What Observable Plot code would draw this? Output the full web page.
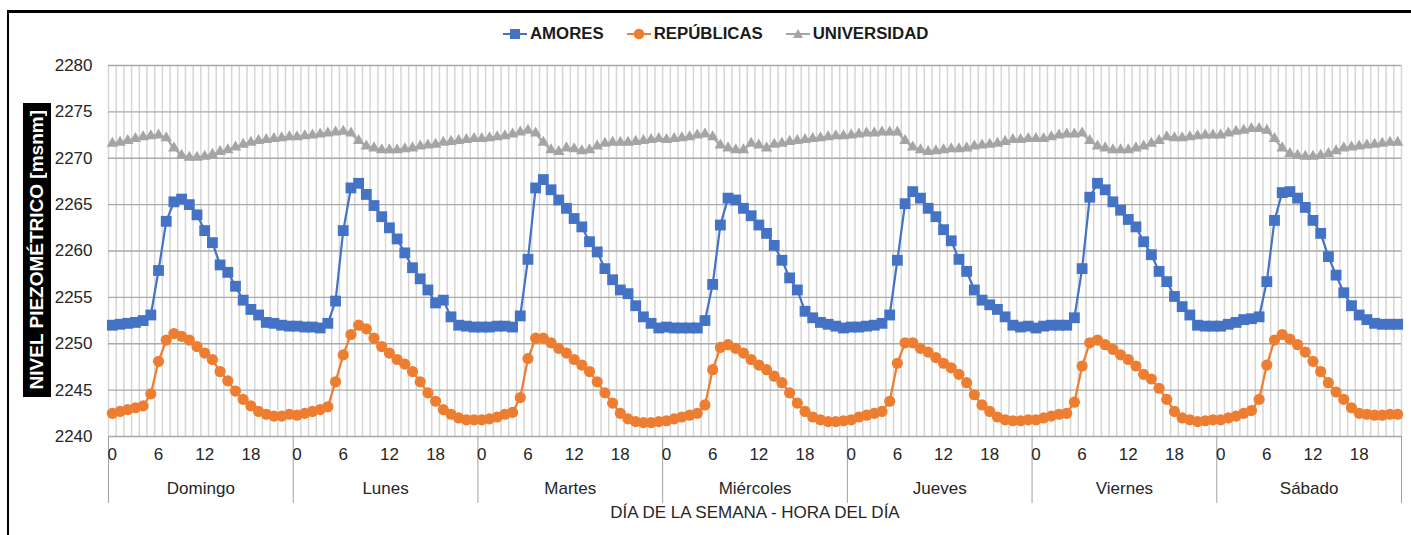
<!DOCTYPE html>
<html><head><meta charset="utf-8">
<script src="https://cdn.jsdelivr.net/npm/d3@7"></script>
<script src="https://cdn.jsdelivr.net/npm/@observablehq/plot@0.6"></script>
<style>
body{margin:0;background:#fff;}
#wrap{position:relative;width:1411px;height:535px;overflow:hidden;font-family:"Liberation Sans",Arial,sans-serif;background:#fff;}
.bt{position:absolute;left:7px;right:0;top:10px;height:2.5px;background:#000;}
.bl{position:absolute;left:7px;top:10px;bottom:0;width:2px;background:#000;}
#legend{position:absolute;left:503px;top:24px;height:20px;display:flex;align-items:center;gap:23px;}
.item{display:flex;align-items:center;font-weight:bold;font-size:16.8px;color:#1a1a1a;}
.item svg{margin-right:3px;}
#ytitle{position:absolute;left:23px;top:103px;width:28px;height:294px;background:#000;display:flex;align-items:center;justify-content:center;}
#ytitle span{writing-mode:vertical-rl;transform:rotate(180deg);color:#fff;font-weight:bold;font-size:19px;white-space:nowrap;}
#chart{position:absolute;left:0;top:50px;}
#chart svg{overflow:visible;}
</style></head><body>
<div id="wrap">
  <div class="bt"></div><div class="bl"></div>
  <div id="legend"></div>
  <div id="ytitle"><span>NIVEL PIEZOMÉTRICO [msnm]</span></div>
  <div id="chart"></div>
</div>
<script>
const days = ["Domingo", "Lunes", "Martes", "Miércoles", "Jueves", "Viernes", "Sábado"];
const hourTicks = [0, 6, 12, 18];
const yTicks = [2240, 2245, 2250, 2255, 2260, 2265, 2270, 2275, 2280];
const seriesNames = ["AMORES", "REPÚBLICAS", "UNIVERSIDAD"];
const seriesColors = ["#4472C4", "#ED7D31", "#A5A5A5"];
const xTitle = "DÍA DE LA SEMANA - HORA DEL DÍA";

const amores = [
  2252.0, 2252.1, 2252.2, 2252.3, 2252.5, 2253.1, 2257.9, 2263.2, 2265.3, 2265.6, 2265.0, 2263.9, 2262.2, 2260.9, 2258.5, 2257.7, 2256.2, 2254.7, 2253.7, 2253.1, 2252.3, 2252.2, 2252.0, 2251.9,
  2251.9, 2251.8, 2251.8, 2251.7, 2252.2, 2254.6, 2262.2, 2266.8, 2267.3, 2266.1, 2264.9, 2263.7, 2262.5, 2261.3, 2259.8, 2258.2, 2257.0, 2255.8, 2254.4, 2254.7, 2252.9, 2252.0, 2251.9, 2251.8,
  2251.8, 2251.8, 2251.9, 2251.9, 2251.8, 2253.0, 2259.1, 2266.8, 2267.7, 2266.6, 2265.5, 2264.6, 2263.5, 2262.6, 2261.0, 2259.9, 2258.1, 2256.9, 2255.8, 2255.4, 2254.1, 2252.9, 2252.2, 2251.7,
  2251.8, 2251.7, 2251.7, 2251.7, 2251.7, 2252.5, 2256.4, 2262.8, 2265.7, 2265.5, 2264.6, 2263.8, 2262.8, 2261.9, 2260.6, 2259.0, 2257.1, 2255.8, 2253.5, 2252.8, 2252.3, 2252.1, 2251.9, 2251.7,
  2251.8, 2251.8, 2251.9, 2252.0, 2252.2, 2253.1, 2259.0, 2265.1, 2266.4, 2265.7, 2264.6, 2263.7, 2262.3, 2261.1, 2259.1, 2257.8, 2255.8, 2254.7, 2254.2, 2253.7, 2252.9, 2252.0, 2251.8, 2251.9,
  2251.7, 2251.9, 2252.0, 2252.0, 2252.0, 2252.8, 2258.1, 2265.8, 2267.3, 2266.6, 2265.3, 2264.4, 2263.4, 2262.6, 2261.0, 2259.6, 2257.8, 2256.7, 2255.1, 2254.0, 2253.1, 2252.0, 2251.9, 2251.9,
  2251.9, 2252.1, 2252.3, 2252.6, 2252.7, 2252.9, 2256.7, 2263.3, 2266.3, 2266.4, 2265.7, 2264.7, 2263.3, 2261.9, 2259.4, 2257.4, 2255.5, 2254.1, 2253.1, 2252.6, 2252.2, 2252.1, 2252.1, 2252.1
];
const republicas = [
  2242.5, 2242.7, 2242.9, 2243.1, 2243.3, 2244.6, 2248.1, 2250.4, 2251.1, 2250.8, 2250.4, 2249.7, 2249.0, 2248.3, 2247.0, 2246.0, 2244.9, 2244.0, 2243.3, 2242.7, 2242.4, 2242.2, 2242.2, 2242.4,
  2242.3, 2242.5, 2242.7, 2242.9, 2243.2, 2245.9, 2248.8, 2251.0, 2252.0, 2251.6, 2250.6, 2249.7, 2249.0, 2248.3, 2247.8, 2247.0, 2245.9, 2244.7, 2243.8, 2242.9, 2242.4, 2242.0, 2241.8, 2241.8,
  2241.8, 2241.9, 2242.1, 2242.4, 2242.6, 2244.2, 2248.4, 2250.6, 2250.6, 2250.1, 2249.5, 2249.0, 2248.3, 2247.7, 2247.0, 2245.9, 2244.7, 2243.6, 2242.5, 2241.9, 2241.6, 2241.5, 2241.5, 2241.6,
  2241.7, 2241.9, 2242.1, 2242.3, 2242.5, 2243.4, 2247.2, 2249.6, 2249.9, 2249.5, 2249.0, 2248.3, 2247.7, 2247.2, 2246.5, 2245.8, 2244.7, 2243.6, 2242.7, 2242.1, 2241.8, 2241.6, 2241.6, 2241.7,
  2241.8, 2242.1, 2242.3, 2242.5, 2242.7, 2243.8, 2247.9, 2250.1, 2250.1, 2249.5, 2249.1, 2248.5, 2247.9, 2247.4, 2246.7, 2245.8, 2244.5, 2243.4, 2242.7, 2242.1, 2241.8, 2241.7, 2241.7, 2241.8,
  2241.8, 2242.0, 2242.2, 2242.4, 2242.5, 2243.7, 2247.6, 2250.1, 2250.4, 2249.9, 2249.4, 2248.8, 2248.3, 2247.6, 2246.7, 2246.2, 2245.2, 2244.0, 2242.7, 2242.0, 2241.8, 2241.6, 2241.7, 2241.8,
  2241.8, 2242.0, 2242.2, 2242.5, 2242.8, 2244.0, 2247.7, 2250.4, 2251.0, 2250.5, 2249.9, 2249.1, 2248.1, 2247.0, 2245.8, 2244.8, 2244.0, 2243.1, 2242.5, 2242.4, 2242.3, 2242.3, 2242.4, 2242.4
];
const universidad = [
  2271.6, 2271.7, 2271.9, 2272.1, 2272.3, 2272.4, 2272.5, 2272.2, 2271.1, 2270.3, 2270.1, 2270.1, 2270.2, 2270.4, 2270.7, 2270.9, 2271.2, 2271.5, 2271.7, 2271.9, 2272.0, 2272.1, 2272.2, 2272.3,
  2272.3, 2272.4, 2272.5, 2272.6, 2272.7, 2272.8, 2272.9, 2272.7, 2271.9, 2271.3, 2271.1, 2270.9, 2270.9, 2270.9, 2271.0, 2271.1, 2271.3, 2271.4, 2271.5, 2271.7, 2271.8, 2271.9, 2272.0, 2272.1,
  2272.1, 2272.2, 2272.3, 2272.4, 2272.6, 2272.8, 2273.0, 2272.7, 2271.7, 2270.9, 2270.7, 2271.1, 2271.0, 2270.8, 2270.9, 2271.3, 2271.6, 2271.7, 2271.7, 2271.7, 2271.8, 2271.9, 2272.0, 2272.1,
  2272.0, 2272.1, 2272.2, 2272.3, 2272.5, 2272.6, 2272.3, 2271.4, 2271.1, 2270.9, 2270.9, 2271.6, 2271.4, 2271.1, 2271.5, 2271.6, 2271.8, 2271.9, 2272.0, 2272.1, 2272.2, 2272.3, 2272.4, 2272.4,
  2272.5, 2272.6, 2272.7, 2272.7, 2272.8, 2272.8, 2272.8, 2271.9, 2271.2, 2270.9, 2270.7, 2270.8, 2270.9, 2271.0, 2271.0, 2271.1, 2271.3, 2271.4, 2271.5, 2271.6, 2271.8, 2272.0, 2272.0, 2272.1,
  2272.1, 2272.1, 2272.3, 2272.5, 2272.6, 2272.6, 2272.7, 2271.9, 2271.3, 2271.1, 2270.9, 2270.9, 2270.9, 2271.1, 2271.3, 2271.6, 2271.9, 2272.3, 2272.2, 2272.2, 2272.3, 2272.4, 2272.5, 2272.5,
  2272.5, 2272.7, 2272.9, 2273.0, 2273.2, 2273.2, 2273.0, 2272.1, 2271.1, 2270.5, 2270.3, 2270.2, 2270.2, 2270.3, 2270.5, 2270.8, 2271.1, 2271.2, 2271.3, 2271.4, 2271.5, 2271.6, 2271.7, 2271.7
];

const hoursPerDay = 24;
const n = days.length * hoursPerDay;
const boundaries = d3.range(n + 1).map(i => i - 0.5);
const dayBounds = d3.range(days.length + 1).map(d => d * hoursPerDay - 0.5);
const hourLabels = days.flatMap((d, k) => hourTicks.map(h => ({x: k * hoursPerDay + h, label: String(h)})));
const dayLabels = days.map((d, k) => ({x: k * hoursPerDay + (hoursPerDay - 1) / 2, label: d}));

const font = "Liberation Sans, Arial, sans-serif";
const txt = "#262626";

const W = 1411, H = 485, mt = 15, mb = 99, ml = 108, mr = 10;
const plotH = H - mt - mb;

const idx = (d, i) => i;
const val = d => d;

const chart = Plot.plot({
  width: W, height: H,
  marginTop: mt, marginBottom: mb, marginLeft: ml, marginRight: mr,
  style: {fontFamily: font, background: "transparent", overflow: "visible"},
  x: {domain: [-0.5, n - 0.5], axis: null},
  y: {domain: [2240, 2280], axis: null},
  marks: [
    Plot.ruleX(boundaries, {stroke: "#d6d6d6", strokeWidth: 1.5}),
    Plot.ruleY(yTicks, {stroke: "#a9a9a9", strokeWidth: 1.3}),
    Plot.ruleX(dayBounds, {stroke: "#a0a0a0", strokeWidth: 1, insetTop: plotH, insetBottom: -67}),
    Plot.text(yTicks, {y: val, text: d => String(d), frameAnchor: "left", textAnchor: "end", dx: -16, fontSize: 17, fill: txt}),
    Plot.text(hourLabels, {x: "x", text: "label", frameAnchor: "bottom", dy: 23, fontSize: 17, fill: txt}),
    Plot.text(dayLabels, {x: "x", text: "label", frameAnchor: "bottom", dy: 57, fontSize: 17, fill: txt}),
    Plot.text([xTitle], {text: d => d, frameAnchor: "bottom", dy: 81, fontSize: 17, fill: txt}),
    Plot.line(amores, {x: idx, y: val, stroke: seriesColors[0], strokeWidth: 2.2}),
    Plot.dot(amores, {x: idx, y: val, symbol: "square", r: 6.1, fill: seriesColors[0], stroke: "none"}),
    Plot.line(republicas, {x: idx, y: val, stroke: seriesColors[1], strokeWidth: 2.2}),
    Plot.dot(republicas, {x: idx, y: val, symbol: "circle", r: 5.6, fill: seriesColors[1], stroke: "none"}),
    Plot.line(universidad, {x: idx, y: val, stroke: seriesColors[2], strokeWidth: 2.2}),
    Plot.dot(universidad, {x: idx, y: val, symbol: "triangle", r: 4.3, fill: seriesColors[2], stroke: "none"})
  ]
});
document.getElementById("chart").appendChild(chart);

// legend
const symbols = ["square", "circle", "triangle"];
const legend = document.getElementById("legend");
seriesNames.forEach((name, i) => {
  const item = document.createElement("div");
  item.className = "item";
  let marker;
  if (symbols[i] === "square") marker = `<rect x="7" y="3" width="10" height="10" fill="${seriesColors[i]}"/>`;
  else if (symbols[i] === "circle") marker = `<circle cx="12" cy="8" r="5.3" fill="${seriesColors[i]}"/>`;
  else marker = `<path d="M12,3 L17,12 L7,12 Z" fill="${seriesColors[i]}"/>`;
  item.innerHTML = `<svg width="24" height="16"><line x1="0" x2="24" y1="8" y2="8" stroke="${seriesColors[i]}" stroke-width="2"/>${marker}</svg><span>${name}</span>`;
  legend.appendChild(item);
});
</script>
</body></html>
